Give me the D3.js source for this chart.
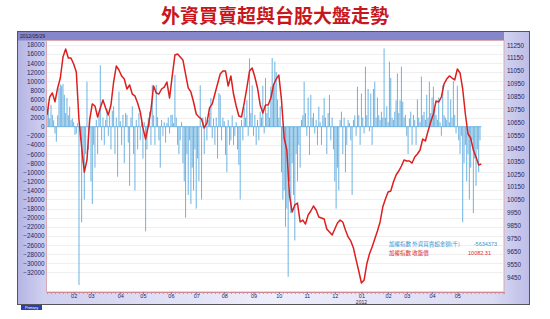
<!DOCTYPE html>
<html><head><meta charset="utf-8">
<script src="https://cdn.jsdelivr.net/npm/d3@7/dist/d3.min.js"></script>
<style>body{margin:0;background:#fff;} svg{display:block;}</style>
</head><body><svg id="c" width="550" height="319"></svg>
<script>
const chartTitle = "外資買賣超與台股大盤走勢";
const dateLabel = "2012/05/29";
const leftTicks = [18000,16000,14000,12000,10000,8000,6000,4000,2000,0,-2000,-4000,-6000,-8000,-10000,-12000,-14000,-16000,-18000,-20000,-22000,-24000,-26000,-28000,-30000,-32000];
const rightTicks = [11250,11150,11050,10950,10850,10750,10650,10550,10450,10350,10250,10150,10050,9950,9850,9750,9650,9550,9450];
const monthLabels = ["02","03","04","05","06","07","08","09","10","11","12","01","02","03","04","05"];
const monthDays = [20,33,55,72,93,112,133,155,174,195,216,236,256,270,289,308];
const yearLabel = "2012";
const yearDay = 236;
const legendNames = ["加權指數  外資買賣超金額(千)", "加權指數  收盤價"];
const legendValues = ["-5634373", "10082.31"];

// foreign net buy/sell, one value per trading day
const foreignNet = [
2600,5200,1800,4800,2600,1400,-1500,-3300,2500,8500,
9300,9000,9400,7000,3000,6300,2500,4400,1500,1800,
1000,-1800,-1500,800,-34800,-3000,-21000,-8000,-16000,-6000,
9900,-5000,2000,-12000,-17000,-4000,-9000,1500,-6000,3000,
13500,-3000,2000,-4000,1500,4000,-2000,2500,-5000,3500,
4500,-6000,2000,-11000,7700,1200,-4000,2600,-8000,3000,
2600,-3500,-13000,2000,4500,-6000,-14000,1500,-5000,3000,
-3000,2000,-7000,1000,-23000,-5000,2000,3300,-4000,9200,
2500,-4000,9200,2100,-3000,-9000,1500,-2000,1000,-3500,
800,2000,-1500,2600,2600,800,11400,2000,-4000,-6000,
-3000,1000,-8000,-12000,-20000,-6000,-15000,-3000,-17000,-9000,
-14000,-5000,-18000,-7000,-12000,9100,-16000,2000,-6000,2200,
-3000,1500,3000,6300,-2500,1800,-4000,2000,-7000,7400,
7000,-3000,2000,1200,-6200,-10000,1500,-4000,-3000,2500,
-4000,-2000,1000,-5000,-8400,-16000,1500,-3000,4300,2000,
5800,-2000,15000,3000,9100,-2000,2600,-4000,1500,-3000,
3300,2000,9000,-1500,10700,3000,4500,2000,8800,15100,
9000,14300,12000,6000,2000,4500,-10000,-16000,-14000,-22000,
-18000,-33000,-12000,-19000,-8000,-15000,-25000,-6000,-12000,-4000,
-9000,1500,2500,9900,3000,-2000,6400,-6200,7000,2000,
3000,-1500,1500,-4000,4400,1000,-4000,2500,6300,2000,
-6000,3000,7000,-3000,2000,-5000,-12000,-18000,-9000,-14000,
1500,3300,-6000,2000,-10000,-4000,1500,800,-3000,-15000,
1500,2500,-2000,8800,2500,-4000,7300,2000,-1500,13200,
2500,8300,-1000,7300,-4000,8300,9900,2000,6400,2500,
1500,3300,2000,17200,2000,4500,1000,14300,10700,2000,
1500,3300,5800,11700,3000,5800,13200,5500,2000,2600,
-2000,-6000,1800,3300,-4000,2600,1500,-4000,6000,2000,
1000,11000,2500,3300,1500,7000,2000,9900,3000,6400,
8800,3900,2600,1500,6400,1000,-2000,9100,2500,2000,
1500,8000,1000,6000,2000,10000,2600,-1500,9000,-3000,
-6000,-2000,-21000,-8000,-4000,-12000,-6000,-16000,-9000,-3000,
-19000,-7000,-13000,-5000,-10000,-3000
];

// TAIEX close, one value every 2 trading days
const indexStep = 2;
const indexClose = [
10707,10847,10878,10810,10917,10994,11157,11219,11149,11149,
11103,11041,10669,10459,10265,10359,10669,10793,10777,10692,
10762,10824,10762,10707,10785,10963,11087,11056,11010,10986,
10909,10940,10870,10855,10800,10731,10607,10521,10622,10746,
10932,10878,10870,10909,10924,10963,10839,11010,11172,11180,
11157,11134,11025,10917,10886,10808,10715,10692,10676,10607,
10645,10762,10793,10870,10948,11025,11048,11048,10932,11010,
10870,10777,10700,10692,10800,10917,11048,11072,11002,10917,
10785,10723,10785,10785,10839,10940,10986,11017,10824,10529,
10436,10087,9955,10010,10025,9878,9893,9862,9932,9963,
10002,9971,9917,9909,9901,9824,9800,9777,9824,9870,
9893,9878,9816,9762,9731,9677,9584,9498,9405,9428,
9552,9630,9684,9746,9808,9878,9994,10056,10110,10118,
10188,10242,10273,10312,10359,10351,10351,10335,10382,10405,
10436,10521,10506,10583,10653,10715,10816,10808,10847,10948,
10986,11010,10994,10979,11064,11033,10909,10715,10560,10529,
10436,10382,10320,10328
];

const svg = d3.select("#c");
const defs = svg.append("defs");
const bg = defs.append("linearGradient").attr("id","bg").attr("x1",0).attr("x2",1).attr("y1",0).attr("y2",0);
[["0","#b4b4e4"],["0.05","#cfcff0"],["0.5","#eeeefb"],["0.93","#dadaf3"],["1","#bdbde8"]].forEach(s=>bg.append("stop").attr("offset",s[0]).attr("stop-color",s[1]));
defs.append("clipPath").attr("id","clip").append("rect").attr("x",47).attr("y",41).attr("width",457).attr("height",251);

const PL=46.5, PR=504, PT=40.5, PB=292;
const x = d3.scaleLinear().domain([0,343]).range([47,504]);
const yL = d3.scaleLinear().domain([-30000,18000]).range([263.2,44.8]);
const yR = d3.scaleLinear().domain([9450,11250]).range([277.2,45]);
const fmt = d3.format("d");

// title
svg.append("text").attr("x",275).attr("y",23).attr("text-anchor","middle")
  .attr("font-family","'Noto Sans CJK TC','Noto Sans CJK SC',sans-serif").attr("font-size",19).attr("font-weight",700)
  .attr("fill","#c8161d").text(chartTitle);

// frame
svg.append("rect").attr("x",17.5).attr("y",31.5).attr("width",512).attr("height",273).attr("fill","url(#bg)").attr("stroke","#555").attr("stroke-width",1);
svg.append("rect").attr("x",18).attr("y",32).attr("width",486).attr("height",8.5).attr("fill","#8686cb");
svg.append("text").attr("x",20).attr("y",38.3).attr("font-family","'Liberation Sans',sans-serif").attr("font-size",5).attr("fill","#1a1a40").text(dateLabel);

// plot
svg.append("rect").attr("x",PL).attr("y",PT).attr("width",PR-PL).attr("height",PB-PT).attr("fill","#fff").attr("stroke","#d9a9b1").attr("stroke-width",1);

// gridlines
svg.append("g").selectAll("line").data(leftTicks.filter(v=>v!==0)).join("line")
  .attr("x1",PL+0.5).attr("x2",PR-0.5).attr("y1",d=>Math.round(yL(d))+0.5).attr("y2",d=>Math.round(yL(d))+0.5)
  .attr("stroke","#ebebeb").attr("stroke-width",0.8);

const plot = svg.append("g").attr("clip-path","url(#clip)");
// bars
plot.append("g").selectAll("rect").data(foreignNet).join("rect")
  .attr("x",(d,i)=>x(i)-0.5).attr("width",1)
  .attr("y",d=>Math.min(yL(d),yL(0))).attr("height",d=>Math.abs(yL(d)-yL(0)))
  .attr("fill","#55a6dc").attr("fill-opacity",0.85);
plot.append("line").attr("x1",PL).attr("x2",x(foreignNet.length)).attr("y1",yL(0)).attr("y2",yL(0)).attr("stroke","#55a6dc").attr("stroke-width",0.8);

// index line
plot.append("path").datum(indexClose)
  .attr("d",d3.line().x((d,i)=>x(i*indexStep)).y(d=>yR(d)))
  .attr("fill","none").attr("stroke","#dc1f1f").attr("stroke-width",1.5).attr("stroke-linejoin","round");

// left axis
const axL = svg.append("g").attr("transform",`translate(${PL},0)`)
  .call(d3.axisLeft(yL).tickValues(leftTicks).tickSize(0).tickPadding(2).tickFormat(fmt));
axL.select(".domain").remove();
axL.selectAll("text").attr("font-family","'Liberation Sans',sans-serif").attr("font-size",6.3).attr("fill","#26265e");

// right axis
const axR = svg.append("g").attr("transform",`translate(${PR},0)`)
  .call(d3.axisRight(yR).tickValues(rightTicks).tickSize(0).tickPadding(3).tickFormat(fmt));
axR.select(".domain").remove();
axR.selectAll("text").attr("font-family","'Liberation Sans',sans-serif").attr("font-size",6.3).attr("fill","#26265e");

// bottom axis: minor ticks + month labels
const minor = d3.range(0,344,3);
const axM = svg.append("g").attr("transform",`translate(0,${PB})`)
  .call(d3.axisBottom(x).tickValues(minor).tickSize(2).tickFormat(""));
axM.select(".domain").attr("stroke","#d08a96");
axM.selectAll(".tick line").attr("stroke","#d08a96");
const axB = svg.append("g").attr("transform",`translate(0,${PB})`)
  .call(d3.axisBottom(x).tickValues(monthDays).tickSize(2).tickPadding(0).tickFormat((d,i)=>monthLabels[i]));
axB.select(".domain").remove();
axB.selectAll(".tick line").attr("stroke","#7a7a9a");
axB.selectAll("text").attr("font-family","'Liberation Sans',sans-serif").attr("font-size",5.5).attr("fill","#26265e");
svg.append("text").attr("x",x(yearDay)).attr("y",304).attr("text-anchor","middle")
  .attr("font-family","'Liberation Sans',sans-serif").attr("font-size",5).attr("fill","#26265e").text(yearLabel);

// legend
const legColors = ["#3a95d2","#dc2a2a"];
legendNames.forEach((n,i)=>{
  svg.append("text").attr("x",389).attr("y",246+i*8.5).attr("font-family","'Noto Sans CJK TC',sans-serif").attr("font-size",5.5).attr("fill",legColors[i]).text(n);
  svg.append("text").attr("x",i===0?497:491).attr("y",246+i*8.5).attr("text-anchor","end").attr("font-family","'Liberation Sans',sans-serif").attr("font-size",5.5).attr("fill",legColors[i]).text(legendValues[i]);
});

// small tab at bottom left
svg.append("rect").attr("x",21).attr("y",305).attr("width",21).attr("height",5).attr("fill","#2b3fb0");
svg.append("text").attr("x",31.5).attr("y",309).attr("text-anchor","middle").attr("font-family","'Liberation Sans',sans-serif").attr("font-size",3.8).attr("fill","#fff").text("Primary");
</script></body></html>
